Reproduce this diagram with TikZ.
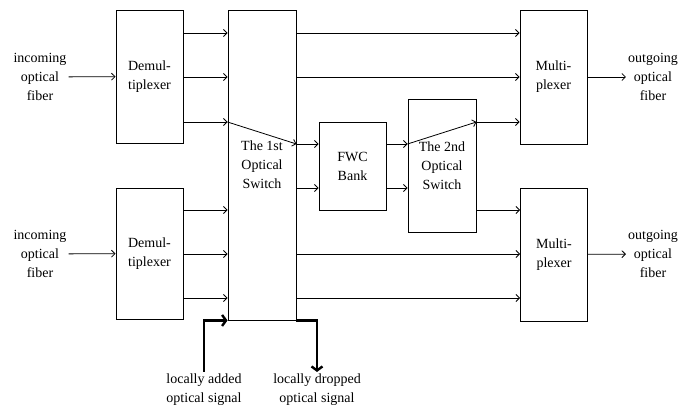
\documentclass[tikz,border=0pt]{standalone}
\usepackage{fontspec}
\setmainfont{Liberation Serif}
\usetikzlibrary{arrows.meta, positioning}

\begin{document}
\begin{tikzpicture}[x=1pt, y=-1pt,
  >={Straight Barb[length=3.5pt, width=7pt]},
  blk/.style={draw, line width=0.9pt, minimum width=67pt, align=center,
    inner sep=2pt, font=\fontsize{14}{19}\selectfont},
  lbl/.style={align=center, inner sep=2pt, font=\fontsize{14}{19}\selectfont},
  arr/.style={->, line width=0.8pt},
  thk/.style={line width=2.4pt, -{Straight Barb[length=4pt, width=11pt]}},
]

\useasboundingbox (0,0) rectangle (698,409);

% signal rows
\coordinate (r1) at (0,33);
\coordinate (r2) at (0,77);
\coordinate (r3) at (0,122);
\coordinate (r4) at (0,144);
\coordinate (r5) at (0,188);
\coordinate (r6) at (0,210);
\coordinate (r7) at (0,254);
\coordinate (r8) at (0,298);

% === Blocks ===

\node[blk, minimum height=133pt] (demuxA) at (149.5,76.5) {Demul-\\tiplexer};
\node[blk, minimum height=131pt] (demuxB) at (149.5,253.5) {Demul-\\tiplexer};
\node[blk, minimum width=68pt, minimum height=310pt] (swA) at (262,165) {The 1st\\Optical\\Switch};
\node[blk, minimum height=88pt] (fwc) at (352.5,166) {FWC\\Bank};
\node[blk, minimum width=68pt, minimum height=133pt] (swB) at (442,165.5) {The 2nd\\Optical\\Switch};
\node[blk, minimum height=134pt] (muxA) at (553.5,77) {Multi-\\plexer};
\node[blk, minimum height=133pt] (muxB) at (554,254.5) {Multi-\\plexer};

% === Labels ===

\node[lbl] (inA) at (40,77) {incoming\\optical\\fiber};
\node[lbl] (inB) at (40,254) {incoming\\optical\\fiber};
\node[lbl] (outA) at (653,77) {outgoing\\optical\\fiber};
\node[lbl] (outB) at (653,254) {outgoing\\optical\\fiber};
\node[lbl] (added) at (204,390) {locally added\\optical signal};
\node[lbl] (dropped) at (317,390) {locally dropped\\optical signal};

% === Connectors ===

\draw[arr] (inA) -- (demuxA);
\draw[arr] (inB) -- (demuxB);
\draw[arr] (muxA) -- (outA);
\draw[arr] (muxB) -- (outB);

\foreach \r in {r1,r2,r3}
  \draw[arr] (demuxA.east |- \r) -- (swA.west |- \r);
\foreach \r in {r6,r7,r8}
  \draw[arr] (demuxB.east |- \r) -- (swA.west |- \r);
\foreach \r in {r1,r2}
  \draw[arr] (swA.east |- \r) -- (muxA.west |- \r);
\foreach \r in {r7,r8}
  \draw[arr] (swA.east |- \r) -- (muxB.west |- \r);
\foreach \r in {r4,r5} {
  \draw[arr] (swA.east |- \r) -- (fwc.west |- \r);
  \draw[arr] (fwc.east |- \r) -- (swB.west |- \r);
}
\draw[arr] (swB.east |- r3) -- (muxA.west |- r3);
\draw[arr] (swB.east |- r6) -- (muxB.west |- r6);

% switching paths
\draw[arr] (swA.west |- r3) -- (swA.east |- r4);
\draw[arr] (swB.west |- r4) -- (swB.east |- r3);

% add / drop
\draw[thk] (added.north) |- (swA.south west);
\draw[thk] (swA.south east) -| (dropped.north);

\end{tikzpicture}
\end{document}
